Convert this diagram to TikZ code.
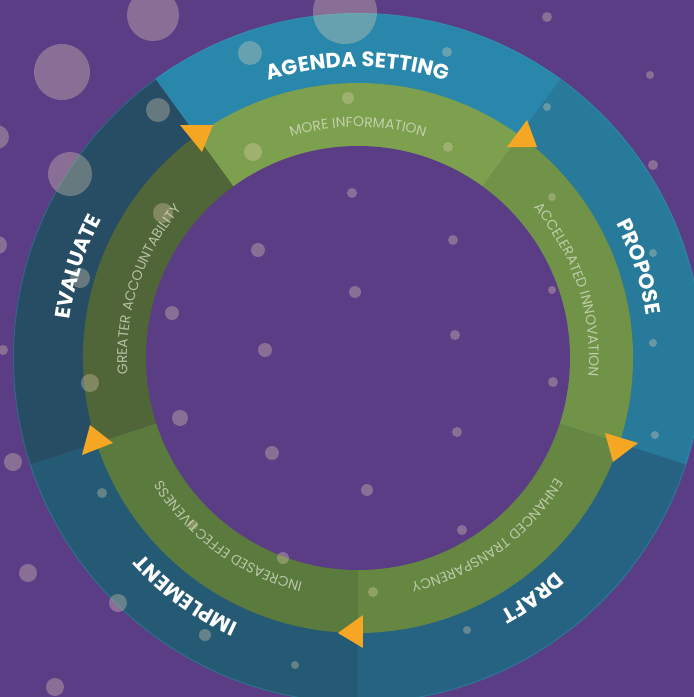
\documentclass[tikz,border=0pt]{standalone}
\usepackage{fontspec}
\setmainfont{Poppins}
\newfontfamily\ringfont{Poppins}
\usetikzlibrary{decorations.text}
\definecolor{bgpurple}{HTML}{5B3D86}
\definecolor{agenda}{HTML}{2887AB}
\definecolor{propose}{HTML}{287A9A}
\definecolor{draft}{HTML}{266382}
\definecolor{implement}{HTML}{255A74}
\definecolor{evaluate}{HTML}{264D64}
\definecolor{gmore}{HTML}{7CA04E}
\definecolor{gaccel}{HTML}{709348}
\definecolor{genh}{HTML}{668742}
\definecolor{ginc}{HTML}{5B7A3E}
\definecolor{ggreat}{HTML}{506538}
\definecolor{innertext}{HTML}{DDE3CF}
\definecolor{tricol}{HTML}{F5A723}
\definecolor{bubblecol}{HTML}{E8D5B5}
\definecolor{rimcol}{HTML}{3C9CBC}
\newcommand\OuterFmt{\ringfont\bfseries\fontsize{21pt}{24pt}\selectfont}
\newcommand\InnerFmt{\ringfont\fontsize{14pt}{17pt}\selectfont}
\tikzset{
  outerlabel/.style={decorate, decoration={text along path, text align=center, text color=white, text={|\OuterFmt|#1}}},
  innerlabel/.style={decorate, decoration={text along path, text align=center, text color=innertext, text={|\InnerFmt|#1}}},
  bubble/.style={fill=bubblecol, fill opacity=0.33},
  arrowtri/.style={fill=tricol},
}
\begin{document}
\begin{tikzpicture}[x=1pt,y=1pt]
\useasboundingbox (-358,-339) rectangle (336,358);
\clip (-358,-339) rectangle (336,358);
\fill[bgpurple] (-358,-339) rectangle (336,358);
\coordinate (c) at (0,0);
% outer ring
\foreach \a/\b/\col in {54/126/agenda, 126/198/evaluate, 198/270/implement, 270/342/draft, -18/54/propose}{
  \fill[\col] (c) -- (\a:345pt) arc[start angle=\a, end angle=\b, radius=345pt] -- cycle;
}
\draw[rimcol, line width=1pt, opacity=0.35] (c) circle[radius=344.5pt];
% green ring
\foreach \a/\b/\col in {54/126/gmore, 126/198/ggreat, 198/270/ginc, 270/342/genh, -18/54/gaccel}{
  \fill[\col] (c) -- (\a:275pt) arc[start angle=\a, end angle=\b, radius=275pt] -- cycle;
}
% inner disk
\fill[bgpurple] (c) circle[radius=212pt];
% bubbles
\foreach \x/\y/\r in {153/15/26, 345/12/32, 62/72/28, 70/174/22, -3/137/12, 158/110/12, 250/53/12,
  80/278/10, -2/245/9, 163/213/10, 90/383/9, 180/418/8, 13/462/9, 118/603/9, 55/687/9, 253/152/9, 28/573/9,
  447/52/5, 348/98/6, 448/147/5, 352/193/5, 547/17/5, 547/107/4, 653/165/5, 453/240/5, 552/197/4, 552/290/4,
  653/253/4, 455/335/5, 553/382/5, 653/343/4, 457/432/5, 655/435/4, 272/453/7, 367/490/6, 102/493/5,
  193/525/5, 283/558/6, 205/635/6, 373/592/5, 295/665/4, 462/530/5, 467/630/4, 265/350/7, 355/292/6,
  258/250/7, 172/313/7, 3/350/5, 650/75/4}{
  \fill[bubble] (\x-358, 358-\y) circle[radius=\r pt];
}
% triangles
\fill[arrowtri] (-178,233) -- (-145,233) -- (-156,206) -- cycle;
\fill[arrowtri] (149,211) -- (179,211) -- (169,238) -- cycle;
\fill[arrowtri] (247,-75) -- (280,-85) -- (255,-104) -- cycle;
\fill[arrowtri] (-20,-275) -- (5,-257) -- (5,-290) -- cycle;
\fill[arrowtri] (-268,-67) -- (-245,-85) -- (-276,-97) -- cycle;
% outer labels
\path[outerlabel={AGENDA SETTING}] (140:291pt) arc[start angle=140, end angle=40, radius=291pt];
\path[outerlabel={PROPOSE}] (68:291pt) arc[start angle=68, end angle=-32, radius=291pt];
\path[outerlabel={DRAFT}] (-4:291pt) arc[start angle=-4, end angle=-104, radius=291pt];
\path[outerlabel={IMPLEMENT}] (-76:291pt) arc[start angle=-76, end angle=-176, radius=291pt];
\path[outerlabel={EVALUATE}] (212:291pt) arc[start angle=212, end angle=112, radius=291pt];
% inner labels
\begin{scope}[opacity=0.72]
\path[innerlabel={MORE INFORMATION}] (145:231pt) arc[start angle=145, end angle=35, radius=231pt];
\path[innerlabel={ACCELERATED INNOVATION}] (73:231pt) arc[start angle=73, end angle=-37, radius=231pt];
\path[innerlabel={ENHANCED TRANSPARENCY}] (1:231pt) arc[start angle=1, end angle=-109, radius=231pt];
\path[innerlabel={INCREASED EFFECTIVENESS}] (-71:231pt) arc[start angle=-71, end angle=-181, radius=231pt];
\path[innerlabel={GREATER ACCOUNTABILITY}] (217:231pt) arc[start angle=217, end angle=107, radius=231pt];
\end{scope}
\end{tikzpicture}
\end{document}
